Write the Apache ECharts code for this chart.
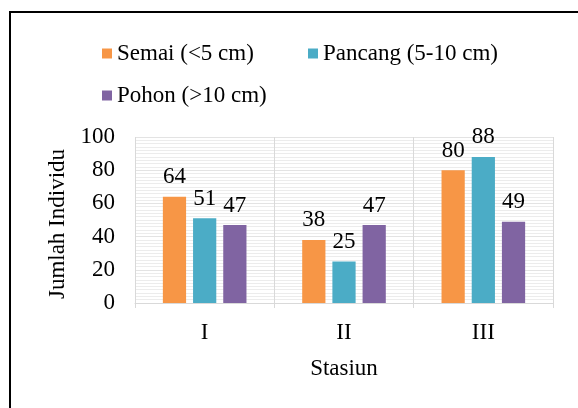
<!DOCTYPE html>
<html>
<head>
<meta charset="utf-8">
<script src="https://cdn.jsdelivr.net/npm/echarts@6/dist/echarts.min.js"></script>
<style>
  html, body { margin: 0; padding: 0; background: #fff; }
  #chart { width: 578px; height: 408px; }
</style>
</head>
<body>
<div id="chart"></div>
<script>
const stations = ['I', 'II', 'III']
const semai = [64, 38, 80]
const pancang = [51, 25, 88]
const pohon = [47, 47, 49]
const seriesNames = ['Semai (<5 cm)', 'Pancang (5-10 cm)', 'Pohon (>10 cm)']
const colors = ['#F79646', '#4BACC6', '#8064A2']

const font = 'Liberation Serif'
const fs = 23
const chart = echarts.init(document.getElementById('chart'))

function makeSeries (name, data, color) {
  return {
    name: name,
    type: 'bar',
    data: data,
    barGap: '30%',
    barCategoryGap: '40%',
    itemStyle: { color: color },
    label: {
      show: true,
      position: 'top',
      distance: 8,
      color: '#000',
      fontFamily: font,
      fontSize: fs
    }
  }
}

const legendText = { color: '#000', fontFamily: font, fontSize: fs }

chart.setOption({
  animation: false,
  backgroundColor: '#fff',
  graphic: [{
    type: 'rect',
    shape: { x: 10, y: 12, width: 700, height: 500 },
    style: { fill: 'none', stroke: '#000', lineWidth: 2 }
  }],
  legend: [
    { data: [seriesNames[0]], left: 97, top: 37, itemWidth: 10, itemHeight: 10, itemGap: 6, textStyle: legendText, icon: 'rect' },
    { data: [seriesNames[1]], left: 303, top: 37, itemWidth: 10, itemHeight: 10, itemGap: 6, textStyle: legendText, icon: 'rect' },
    { data: [seriesNames[2]], left: 97, top: 79, itemWidth: 10, itemHeight: 10, itemGap: 6, textStyle: legendText, icon: 'rect' }
  ],
  grid: { left: 135, right: 25, top: 137, bottom: 105 },
  xAxis: {
    type: 'category',
    data: stations,
    name: 'Stasiun',
    nameLocation: 'middle',
    nameGap: 54,
    nameTextStyle: { color: '#000', fontFamily: font, fontSize: fs },
    axisLine: { lineStyle: { color: '#d9d9d9', width: 1 } },
    axisTick: { show: true, length: 5, lineStyle: { color: '#d9d9d9' } },
    splitLine: { show: true, lineStyle: { color: '#d9d9d9' } },
    axisLabel: { color: '#000', fontFamily: font, fontSize: fs, margin: 18 }
  },
  yAxis: {
    type: 'value',
    min: 0,
    max: 100,
    interval: 20,
    name: 'Jumlah Individu',
    nameLocation: 'middle',
    nameGap: 66,
    nameTextStyle: { color: '#000', fontFamily: font, fontSize: fs, padding: [0, 8, 0, 0] },
    axisLine: { show: false },
    axisTick: { show: false },
    axisLabel: { color: '#000', fontFamily: font, fontSize: fs, margin: 20, padding: [6, 0, 0, 0] },
    splitLine: { show: true, lineStyle: { color: '#e3e3e3' } },
    minorTick: { show: false, splitNumber: 10 },
    minorSplitLine: { show: true, lineStyle: { color: '#ececec' } }
  },
  series: [
    makeSeries(seriesNames[0], semai, colors[0]),
    makeSeries(seriesNames[1], pancang, colors[1]),
    makeSeries(seriesNames[2], pohon, colors[2])
  ]
})
</script>
</body>
</html>
